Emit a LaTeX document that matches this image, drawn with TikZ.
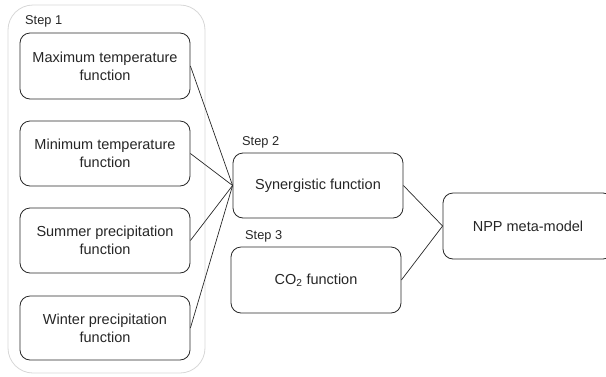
\documentclass[tikz,border=0pt]{standalone}
\usepackage{fontspec}
\setmainfont{Liberation Sans}
\definecolor{boxline}{RGB}{40,40,40}
\definecolor{groupline}{RGB}{215,215,215}
\usepackage{tikz}

\tikzset{
  fbox/.style={draw=boxline, line width=0.8pt, rounded corners=10pt, minimum width=170pt,
    minimum height=65pt, inner sep=0pt, align=center, text=black!85, font=\fontsize{14.5}{17.7}\selectfont},
  steplabel/.style={anchor=west, inner sep=0pt, text=black!85, font=\fontsize{12.8}{15}\selectfont},
  link/.style={draw=boxline, line width=0.7pt}
}

\begin{document}
\begin{tikzpicture}[x=1pt, y=-1pt]
\clip (0,0) rectangle (606,376);
% Step 1 group
\draw[groupline, line width=0.8pt, rounded corners=25pt] (8,5) rectangle (205,373);
\node[steplabel] (s1) at (25,21) {Step 1};

% Boxes
\node[fbox, minimum height=66pt] (tmax) at (105,66) {Maximum temperature\\function};
\node[fbox] (tmin) at (105,153.5) {Minimum temperature\\function};
\node[fbox] (psum) at (105,240.5) {Summer precipitation\\function};
\node[fbox, minimum height=64pt] (pwin) at (105,328) {Winter precipitation\\function};

\node[steplabel] (s2) at (242,142) {Step 2};
\node[fbox] (syn) at (318,185.5) {Synergistic function};
\node[steplabel] (s3) at (245,236) {Step 3};
\node[fbox, minimum height=66pt] (co2) at (316,280) {CO\textsubscript{2} function};

\node[fbox, minimum height=66pt] (npp) at (528,226) {NPP meta-model};

% Connectors
\draw[link] (tmax.east) -- (syn.west);
\draw[link] (tmin.east) -- (syn.west);
\draw[link] (psum.east) -- (syn.west);
\draw[link] (pwin.east) -- (syn.west);
\draw[link] (syn.east) -- (npp.west);
\draw[link] (co2.east) -- (npp.west);
\end{tikzpicture}
\end{document}
